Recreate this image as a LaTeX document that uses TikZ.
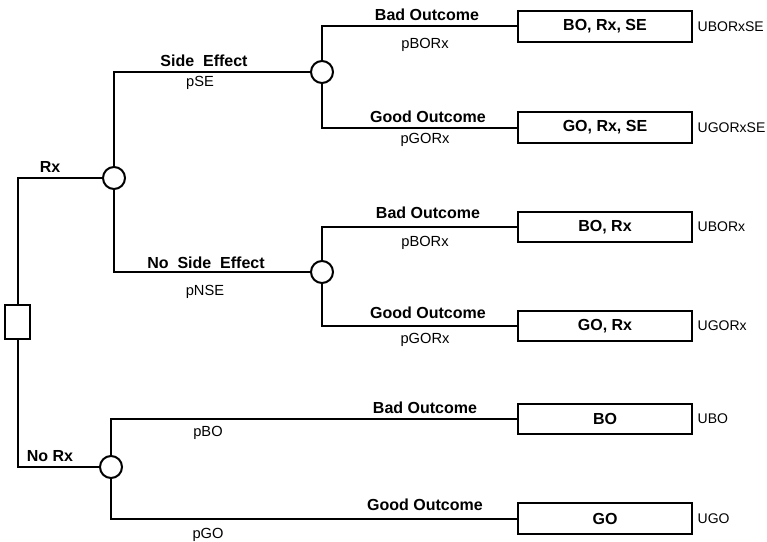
\documentclass[tikz,border=0pt]{standalone}
\usepackage{fontspec}
\setmainfont{Liberation Sans}
\usetikzlibrary{positioning}

\begin{document}
\begin{tikzpicture}[x=0.75pt, y=-0.75pt, line width=1.5pt,
  chance/.style={draw, circle, minimum size=16.5pt, inner sep=0pt, fill=white},
  choice/.style={draw, rectangle, minimum width=18.5pt, minimum height=26pt, inner sep=0pt},
  outcome/.style={draw, rectangle, minimum width=131pt, minimum height=23pt, inner sep=0pt, font=\bfseries\fontsize{12}{14}\selectfont},
  branch/.style={font=\bfseries\fontsize{12}{14}\selectfont, inner sep=0pt},
  prob/.style={font=\fontsize{11}{13}\selectfont, inner sep=0pt},
  utility/.style={font=\fontsize{10.5}{12}\selectfont, inner sep=0pt}]

\useasboundingbox (0,0) rectangle (767,542);

\node (dec) [choice] at (17.5,322) {};
\node (rx) [chance] at (114,178) {};
\node (norx) [chance] at (111,467) {};
\node (se) [chance] at (322,72) {};
\node (nse) [chance] at (322,272) {};

\node (boRxSe) [outcome] at (605,26.5) {BO, Rx, SE};
\node (goRxSe) [outcome] at (605,127.5) {GO, Rx, SE};
\node (boRx) [outcome] at (605,227) {BO, Rx};
\node (goRx) [outcome] at (605,326) {GO, Rx};
\node (bo) [outcome] at (605,419) {BO};
\node (go) [outcome] at (605,518.5) {GO};

\node (uboRxSe) [utility, right=2.5pt of boRxSe] {UBORxSE};
\node (ugoRxSe) [utility, right=2.5pt of goRxSe] {UGORxSE};
\node (uboRx) [utility, right=2.5pt of boRx] {UBORx};
\node (ugoRx) [utility, right=2.5pt of goRx] {UGORx};
\node (ubo) [utility, right=2.5pt of bo] {UBO};
\node (ugo) [utility, right=2.5pt of go] {UGO};

\draw (dec.north) |- (rx);
\draw (dec.south) |- (norx);
\draw (rx) |- (se);
\draw (rx) |- (nse);
\draw (se) |- (boRxSe);
\draw (se) |- (goRxSe);
\draw (nse) |- (boRx);
\draw (nse) |- (goRx);
\draw (norx) |- (bo);
\draw (norx) |- (go);

\node (lRx) [branch] at (50,167) {Rx};
\node (lNoRx) [branch] at (50,456) {No Rx};
\node (lSe) [branch] at (204,61) {Side\ \ Effect};
\node (pSe) [prob] at (200,83) {pSE};
\node (lNse) [branch] at (206,263) {No\ \ Side\ \ Effect};
\node (pNse) [prob] at (205,292) {pNSE};

\node (lBo1) [branch] at (427,15) {Bad Outcome};
\node (pBo1) [prob] at (425,45) {pBORx};
\node (lGo1) [branch] at (428,117) {Good Outcome};
\node (pGo1) [prob] at (425,140) {pGORx};
\node (lBo2) [branch] at (428,213) {Bad Outcome};
\node (pBo2) [prob] at (425,243) {pBORx};
\node (lGo2) [branch] at (428,313) {Good Outcome};
\node (pGo2) [prob] at (425,340) {pGORx};
\node (lBo3) [branch] at (425,408) {Bad Outcome};
\node (pBo3) [prob] at (208,433) {pBO};
\node (lGo3) [branch] at (425,505) {Good Outcome};
\node (pGo3) [prob] at (208,535) {pGO};
\end{tikzpicture}
\end{document}
